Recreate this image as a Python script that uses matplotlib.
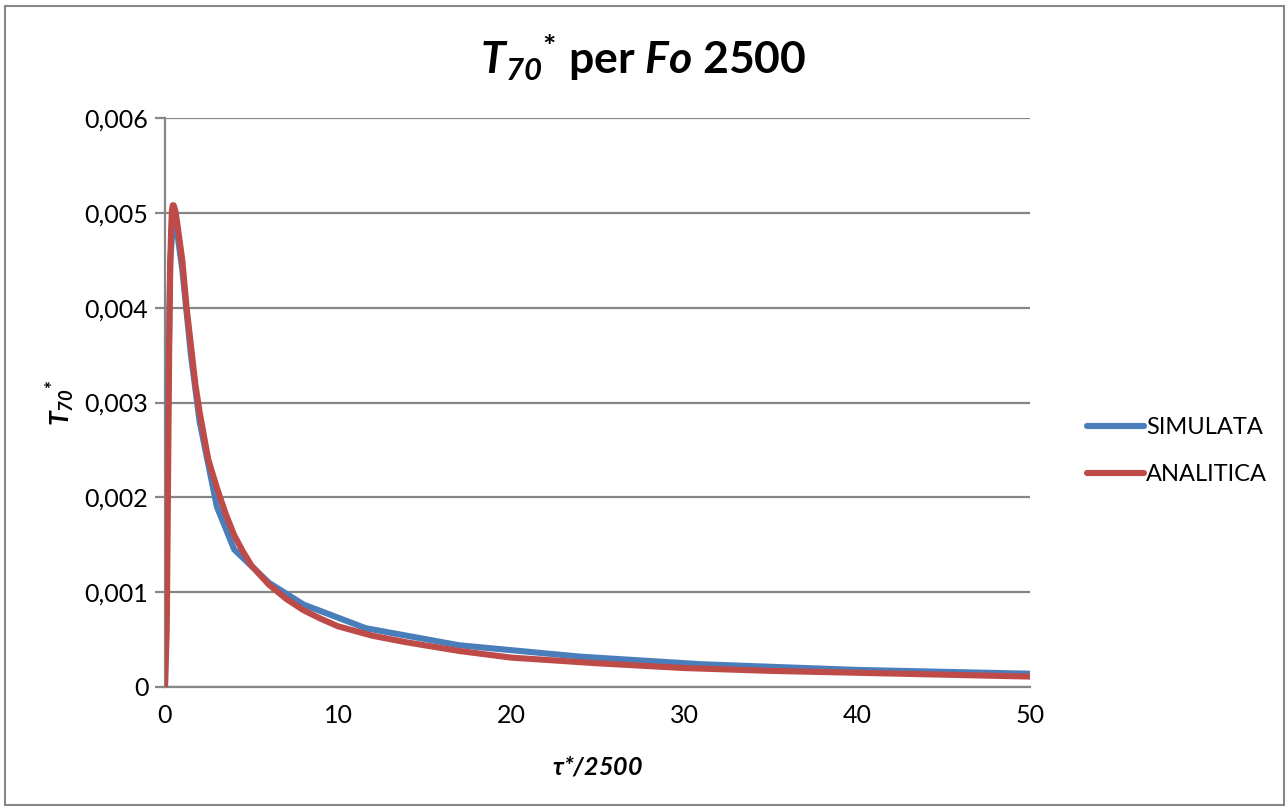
import matplotlib
matplotlib.use('Agg')
import matplotlib.pyplot as plt
from matplotlib.ticker import FuncFormatter, MultipleLocator
from matplotlib.patches import Rectangle

# data
x_sim = [0, 0.1, 0.3, 0.5, 0.7, 1, 1.5, 2, 3, 4, 6, 8, 11.6, 17, 24, 31, 40, 50]
y_sim = [0, 0.0020, 0.0045, 0.0050, 0.0048, 0.0044, 0.0035, 0.0028, 0.0019, 0.00145,
         0.00110, 0.00087, 0.00062, 0.00044, 0.00032, 0.00024, 0.00018, 0.00014]

x_ana = [0, 0.1, 0.15, 0.2, 0.25, 0.3, 0.35, 0.4, 0.45, 0.5, 0.6, 0.7, 0.85, 1, 1.25,
         1.5, 1.75, 2, 2.5, 3, 3.5, 4, 4.5, 5, 6, 7, 8, 9, 10, 12, 14, 17, 20, 25, 30,
         35, 40, 45, 50]
y_ana = [0, 0.0006, 0.0016, 0.0027, 0.0037, 0.0044, 0.0048, 0.00503, 0.00508, 0.00508,
         0.00502, 0.0049, 0.0047, 0.0045, 0.0040, 0.0036, 0.0032, 0.0029, 0.0024,
         0.0021, 0.00183, 0.0016, 0.00143, 0.00128, 0.00108, 0.00093, 0.00081,
         0.00072, 0.00064, 0.00054, 0.00047, 0.00038, 0.00031, 0.00025, 0.00020,
         0.00017, 0.00015, 0.00013, 0.00011]

plt.rcParams['font.family'] = ['Lato', 'DejaVu Sans']
plt.rcParams['mathtext.fontset'] = 'custom'
plt.rcParams['mathtext.rm'] = 'Lato:bold'
plt.rcParams['mathtext.it'] = 'Lato:italic:bold'
plt.rcParams['mathtext.bf'] = 'Lato:bold'
plt.rcParams['mathtext.bfit'] = 'Lato:italic:bold'

fig = plt.figure(figsize=(12.87, 8.07), dpi=100)
ax = fig.add_axes([165/1287, 1-687/807, (1030-165)/1287, (687-118)/807])

grid_c = '#868686'
ax.grid(axis='y', color=grid_c, linewidth=1.6, zorder=1)
ax.plot(x_sim, y_sim, color='#4A7EBB', linewidth=4.4, label='SIMULATA', zorder=3,
        solid_capstyle='round', solid_joinstyle='round')
ax.plot(x_ana, y_ana, color='#BE4B48', linewidth=4.4, label='ANALITICA', zorder=4,
        solid_capstyle='round', solid_joinstyle='round')

ax.set_xlim(0, 50)
ax.set_ylim(0, 0.006)
ax.xaxis.set_major_locator(MultipleLocator(10))
ax.yaxis.set_major_locator(MultipleLocator(0.001))

def comma_fmt(v, pos):
    if abs(v) < 1e-12:
        return '0'
    if v == int(v):
        return '%d' % v
    return ('%.3f' % v).replace('.', ',')
ax.xaxis.set_major_formatter(FuncFormatter(comma_fmt))
ax.yaxis.set_major_formatter(FuncFormatter(comma_fmt))

for s in ['top', 'right']:
    ax.spines[s].set_visible(False)
ax.spines['left'].set_color(grid_c)
ax.spines['left'].set_linewidth(1.6)
ax.spines['bottom'].set_color(grid_c)
ax.spines['bottom'].set_linewidth(1.6)
ax.tick_params(axis='y', length=7, width=1.6, color=grid_c, labelsize=18, pad=5)
ax.tick_params(axis='x', length=0, labelsize=18, pad=12)

ax.set_xlabel(r'$\mathbfit{\tau}$*/2500', fontsize=18, fontweight='bold', fontstyle='italic',
              labelpad=20)
ax.set_ylabel(r'$\mathbfit{T}_{\mathbfit{70}}{}^{\mathbf{*}}$', fontsize=19, labelpad=6)

fig.text(0.5, 0.928, r'$\mathbfit{T}_{\mathbfit{70}}{}^{\mathbf{*}}$ per $\mathbfit{Fo}$ 2500',
         ha='center', va='center', fontsize=32, fontweight='bold')

fig.legend(loc='center left', bbox_to_anchor=(1066/1287, 1-451/807), frameon=False,
           fontsize=17, handlelength=2.4, handletextpad=0.1, labelspacing=1.1)

fig.patches.append(Rectangle((5/1287, 2/807), 1279/1287, 799/807, transform=fig.transFigure,
                             fill=False, edgecolor=grid_c, linewidth=1.5))

plt.savefig('out.png', dpi=100)
